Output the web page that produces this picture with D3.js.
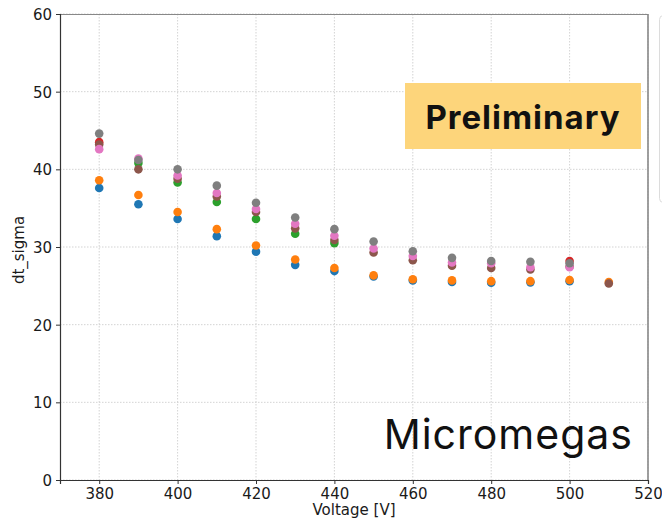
<!DOCTYPE html>
<html>
<head>
<meta charset="utf-8">
<script src="https://cdn.jsdelivr.net/npm/d3@7"></script>
<style>
  html, body { margin: 0; padding: 0; background: #fff; }
  svg { display: block; }
</style>
</head>
<body>
<svg id="chart" width="662" height="522"></svg>
<script>
// Drift time sigma versus mesh voltage, one series per run
const voltages = [380, 390, 400, 410, 420, 430, 440, 450, 460, 470, 480, 490, 500, 510];

const seriesBlue   = [37.6, 35.5, 33.6, 31.4, 29.4, 27.7, 26.9, 26.2, 25.7, 25.5, 25.4, 25.45, 25.6, null];
const seriesOrange = [38.6, 36.7, 34.5, 32.3, 30.2, 28.4, 27.3, 26.35, 25.85, 25.7, 25.6, 25.6, 25.75, 25.5];
const seriesGreen  = [null, 40.8, 38.3, 35.8, 33.6, 31.7, 30.5, null, null, null, null, null, null, null];
const seriesRed    = [43.5, null, null, null, null, null, null, null, null, null, null, null, 28.2, null];
const seriesBrown  = [43.2, 40.0, 38.8, 36.5, 34.5, 32.4, 30.9, 29.3, 28.3, 27.6, 27.3, 27.1, 27.5, 25.3];
const seriesPink   = [42.6, 41.4, 39.2, 36.95, 34.9, 33.0, 31.45, 29.8, 28.85, 28.0, 27.9, 27.4, 27.4, null];
const seriesGrey   = [44.6, 41.2, 40.0, 37.9, 35.7, 33.8, 32.3, 30.7, 29.45, 28.6, 28.2, 28.1, 27.9, null];

const seriesList = [
  { values: seriesBlue,   color: "#1f77b4" },
  { values: seriesOrange, color: "#ff7f0e" },
  { values: seriesGreen,  color: "#2ca02c" },
  { values: seriesRed,    color: "#d62728" },
  { values: seriesBrown,  color: "#8c564b" },
  { values: seriesPink,   color: "#e377c2" },
  { values: seriesGrey,   color: "#7f7f7f" }
];

const xTicks = [380, 400, 420, 440, 460, 480, 500, 520];
const yTicks = [0, 10, 20, 30, 40, 50, 60];

const xLabel = "Voltage [V]";
const yLabel = "dt_sigma";
const badgeText = "Preliminary";
const detectorText = "Micromegas";

const svg = d3.select("#chart");
const plotLeft = 60, plotRight = 648, plotTop = 14, plotBottom = 480;

const x = d3.scaleLinear().domain([370, 520]).range([plotLeft, plotRight]);
const y = d3.scaleLinear().domain([0, 60]).range([plotBottom, plotTop]);

const font = "'DejaVu Sans', sans-serif";
const fontSize = 15;

// cut-off legend frame at the right edge
svg.append("rect")
  .attr("x", 659.5).attr("y", 15.5)
  .attr("width", 40).attr("height", 187)
  .attr("rx", 4)
  .attr("fill", "#fff")
  .attr("stroke", "#dcdcdc")
  .attr("stroke-width", 1);

// grid
const grid = svg.append("g");
grid.selectAll("line.gx").data(xTicks).join("line")
  .attr("x1", d => x(d)).attr("x2", d => x(d))
  .attr("y1", plotTop).attr("y2", plotBottom)
  .attr("stroke", "#c8c8c8").attr("stroke-width", 0.8)
  .attr("stroke-dasharray", "1.5,1.5");
grid.selectAll("line.gy").data(yTicks).join("line")
  .attr("x1", plotLeft).attr("x2", plotRight)
  .attr("y1", d => y(d)).attr("y2", d => y(d))
  .attr("stroke", "#c8c8c8").attr("stroke-width", 0.8)
  .attr("stroke-dasharray", "1.5,1.5");

// points
const pts = svg.append("g");
seriesList.forEach(s => {
  const data = voltages.map((v, i) => ({ v, val: s.values[i] })).filter(d => d.val != null);
  pts.selectAll(null).data(data).join("circle")
    .attr("cx", d => x(d.v))
    .attr("cy", d => y(d.val))
    .attr("r", 4.3)
    .attr("fill", s.color);
});

// frame
svg.append("line").attr("x1", plotLeft).attr("x2", plotRight).attr("y1", plotTop + 0.5).attr("y2", plotTop + 0.5)
  .attr("stroke", "#888").attr("stroke-width", 1.2);
svg.append("line").attr("x1", plotRight).attr("x2", plotRight).attr("y1", plotTop).attr("y2", plotBottom)
  .attr("stroke", "#888").attr("stroke-width", 1.6);

// axes
const xAxis = svg.append("g")
  .attr("transform", `translate(0,${plotBottom})`)
  .call(d3.axisBottom(x).tickValues(xTicks).tickSize(4).tickPadding(4).tickFormat(d3.format("d")));
const yAxis = svg.append("g")
  .attr("transform", `translate(${plotLeft},0)`)
  .call(d3.axisLeft(y).tickValues(yTicks).tickSize(4).tickPadding(4).tickFormat(d3.format("d")));

[xAxis, yAxis].forEach(a => {
  a.select(".domain").attr("stroke", "#333").attr("stroke-width", 1.2);
  a.selectAll(".tick line").attr("stroke", "#333");
  a.selectAll(".tick text")
    .attr("font-family", font).attr("font-size", fontSize).attr("fill", "#1a1a1a");
});
yAxis.selectAll(".tick text").attr("dy", "0.36em");

// axis titles
svg.append("text")
  .attr("x", (plotLeft + plotRight) / 2).attr("y", 515)
  .attr("text-anchor", "middle")
  .attr("font-family", font).attr("font-size", fontSize).attr("fill", "#1a1a1a")
  .text(xLabel);
svg.append("text")
  .attr("transform", `translate(24,${(plotTop + plotBottom) / 2 + 3}) rotate(-90)`)
  .attr("text-anchor", "middle")
  .attr("font-family", font).attr("font-size", fontSize).attr("fill", "#1a1a1a")
  .text(yLabel);

// badge
svg.append("rect")
  .attr("x", 405).attr("y", 83)
  .attr("width", 236).attr("height", 66)
  .attr("fill", "#fdd57b");
svg.append("text")
  .attr("x", 523).attr("y", 129)
  .attr("text-anchor", "middle")
  .attr("font-family", "Inter, 'Open Sans', sans-serif")
  .attr("font-weight", "bold")
  .attr("font-size", 33)
  .attr("letter-spacing", 1)
  .attr("fill", "#111")
  .text(badgeText);

// detector name
svg.append("text")
  .attr("x", 633).attr("y", 449)
  .attr("text-anchor", "end")
  .attr("font-family", "Inter, 'Open Sans', sans-serif")
  .attr("font-size", 41)
  .attr("letter-spacing", 1)
  .attr("fill", "#111")
  .text(detectorText);
</script>
</body>
</html>
